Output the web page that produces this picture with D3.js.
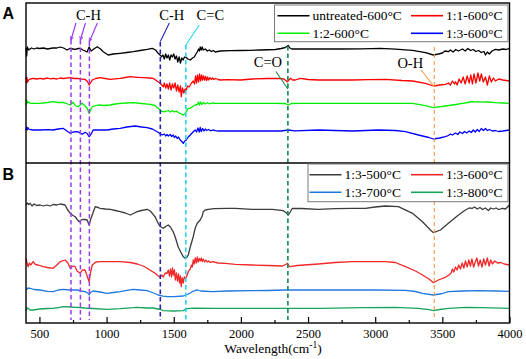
<!DOCTYPE html>
<html>
<head>
<meta charset="utf-8">
<script src="https://cdn.jsdelivr.net/npm/d3@7"></script>
<style>
body { margin: 0; background: #fff; }
svg { display: block; }
.tick line { stroke: #000; stroke-width: 1.2; }
.lbl { font-family: "Liberation Serif", "Times New Roman", serif; }
</style>
</head>
<body>
<div class="chart"></div>
<script>

// wavenumber (cm-1), transmittance (a.u., stacked)
const untreated600 = [[400,115],[405,107],[410,116],[420,113],[440,115],[460,114],[480,115],[500,114.5],[530,115],[560,114],[600,115],[630,115],[654,116],[680,115],[706,113],[729,114.7],[750,114],[766,113.7],[790,114.5],[803,114.7],[825,113],[840,112],[855,111],[870,116],[885,112],[905,114],[930,116.3],[955,114],[975,111.3],[1012,108],[1050,109],[1101,109.7],[1150,110.5],[1200,111.3],[1250,112.5],[1302,113.7],[1340,114.7],[1365,113],[1384,109.7],[1411,106.3],[1420,108],[1430,104],[1440,109],[1450,105],[1460,108],[1470,103],[1480,108],[1490,106],[1500,109],[1510,104],[1520,107],[1530,101],[1540,106],[1550,100],[1560,105],[1570,103],[1580,106],[1593,105.5],[1605,104],[1623,103],[1640,105],[1653,106],[1665,109],[1675,111],[1685,114],[1692,112],[1697,116],[1705,113],[1712,116],[1720,113],[1735,114],[1750,112],[1765,113],[1780,111.5],[1795,112.5],[1809,111],[1846,112],[1920,112.3],[1996,112.5],[2070,112.7],[2145,113],[2257,113.5],[2300,114.5],[2330,115.5],[2353,117.5],[2365,115],[2380,114],[2443,114],[2600,114],[2741,114],[2900,114.2],[3039,114.7],[3150,113.8],[3278,112.7],[3374,110.3],[3434,108],[3471,109],[3500,110],[3520,112],[3545,111.3],[3560,113],[3580,111],[3600,113.5],[3620,112],[3650,114],[3670,112],[3690,114.5],[3710,112.5],[3730,113.5],[3750,111.5],[3770,112.5],[3790,110.5],[3810,111.5],[3821,108],[3835,111],[3850,109],[3870,112],[3895,113.7],[3920,113],[3950,114],[3975,113.5],[4000,114.7]];

const ratio11 = [[400,86.3],[404,80],[408,85],[412,81],[420,83],[431,84],[453,84.7],[480,84],[505,84.7],[530,84],[560,85],[580,84.2],[602,84.7],[630,84],[654,85],[680,84.5],[729,85.3],[760,84.5],[781,84.7],[810,84],[840,83.7],[860,81],[870,78],[880,80],[893,83],[920,84.5],[952,85.3],[990,84.5],[1027,83.7],[1065,84.2],[1101,84.7],[1140,85.5],[1176,86.3],[1230,85.7],[1273,85.3],[1320,85],[1347,84.7],[1375,82],[1399,79.7],[1422,76.3],[1430,80],[1440,75],[1450,79],[1460,74],[1470,80],[1480,73],[1490,79],[1500,75],[1510,80],[1520,72],[1530,78],[1540,71],[1550,77],[1556,66.3],[1565,75],[1575,70],[1585,74],[1593,73],[1603,77],[1615,76],[1623,78],[1633,80],[1645,82],[1655,79],[1662,87],[1670,80],[1677,88],[1685,81],[1692,89],[1700,82],[1707,88],[1715,83],[1722,87],[1730,83],[1737,86.5],[1745,82.5],[1752,86],[1760,83],[1770,85.5],[1780,83.5],[1790,85],[1800,83.5],[1812,84.5],[1830,83.5],[1846,83],[1900,83.3],[1996,83],[2085,84],[2200,84.5],[2279,84.7],[2320,84],[2346,81.3],[2358,83],[2368,84.7],[2385,83],[2405,83],[2443,84.7],[2500,83.5],[2577,83],[2700,83],[2830,83],[2950,83.3],[3076,83.7],[3200,82.5],[3278,82],[3374,79.7],[3434,77],[3480,78],[3523,78.7],[3545,80],[3560,78],[3575,82],[3590,79],[3598,81.3],[3610,78],[3625,84],[3640,80],[3655,86],[3670,79],[3685,87],[3700,80],[3712,88],[3724,79],[3736,89],[3750,80],[3765,90],[3778,82],[3790,89],[3805,81],[3821,86],[3835,78],[3850,87],[3865,81],[3880,85],[3895,82],[3920,84],[3950,83],[3975,82.5],[4000,82]];

const ratio12 = [[400,58],[405,63],[412,60],[420,61],[431,59.7],[460,59.7],[505,59.7],[560,60.5],[602,61.3],[640,60.5],[676,60.7],[710,59],[729,58],[751,60.7],[770,57],[788,56.3],[818,59.7],[840,57],[855,54.7],[870,49.7],[880,53],[893,56.3],[937,58],[980,57.5],[1027,58],[1065,59],[1101,59.7],[1150,60],[1198,60.3],[1260,59.5],[1325,58.7],[1360,57.5],[1384,54.7],[1414,51.3],[1440,51.5],[1460,52.5],[1475,51],[1490,52.5],[1505,51],[1520,52],[1533,50.5],[1548,49.7],[1560,48.7],[1571,48],[1585,49.5],[1593,51.3],[1608,54.7],[1623,54.7],[1640,56.5],[1660,58],[1675,58.5],[1685,61],[1692,58],[1700,61],[1710,58.5],[1720,60.5],[1735,59],[1750,60.3],[1765,59.2],[1785,60],[1810,59.6],[1846,59.7],[1950,59.7],[2100,59.7],[2250,59.7],[2330,59.5],[2353,58],[2375,59.5],[2443,59.7],[2600,59.7],[2800,59.7],[3000,59.7],[3200,59.7],[3278,59.7],[3374,57.3],[3434,55.3],[3523,57],[3600,58.5],[3650,59.7],[3690,60.5],[3720,61.5],[3740,60.8],[3769,61.3],[3800,60.8],[3840,61],[3895,60.3],[3950,60],[4000,59.7]];

const ratio13 = [[400,33],[403,36],[408,33],[414,35.5],[420,34],[431,33.5],[453,33],[505,33],[560,33.3],[600,33],[640,34],[676,34.7],[710,31.5],[729,29.7],[751,31],[781,31.3],[800,30.3],[818,28.7],[840,30.7],[855,29.5],[870,26.3],[885,29],[900,33],[937,33],[1004,33],[1050,34],[1101,34.7],[1150,36],[1213,37],[1260,36],[1302,35.3],[1340,34],[1377,31.3],[1414,28],[1430,29],[1440,27],[1450,28.5],[1460,27],[1474,28.5],[1485,26.5],[1496,28],[1505,25.5],[1515,27],[1526,24.5],[1536,26],[1548,23],[1560,21.5],[1571,19.7],[1582,22],[1593,23],[1608,26],[1623,28],[1640,30.5],[1660,33],[1670,31],[1680,35],[1690,31],[1697,35.5],[1705,31.5],[1715,34.5],[1725,32],[1735,34],[1745,32.5],[1760,33.5],[1775,32.2],[1790,33],[1810,32.3],[1831,32],[1900,32],[2000,32],[2150,32],[2300,32],[2353,33],[2400,32.2],[2577,33],[2700,32.5],[2830,32],[3024,33],[3150,32.5],[3225,31.3],[3322,28],[3400,25.5],[3434,24],[3480,25],[3523,26.3],[3545,27.5],[3560,29],[3575,28],[3598,30],[3615,28.5],[3630,31],[3650,29.5],[3665,31.5],[3680,30],[3700,32],[3715,30.5],[3730,33],[3745,31],[3760,33.5],[3775,31.5],[3790,34.5],[3805,32.5],[3821,34.5],[3835,32.5],[3850,33.5],[3873,32],[3895,32.5],[3918,31.5],[3950,32],[4000,33]];

const temp500 = [[401,118],[410,120],[420,118.5],[431,119.7],[445,117],[460,119],[480,117.5],[505,118],[530,117],[555,118],[580,117],[602,118.5],[630,118],[654,119],[675,118.5],[691,118],[706,114],[729,109.7],[750,107.5],[766,106.3],[781,103.5],[796,101.3],[812,103],[825,103.7],[840,103.5],[855,103],[870,98],[880,103],[893,108],[915,116.3],[937,115.5],[952,114.7],[990,114],[1027,113.7],[1065,112.5],[1101,111.3],[1140,110],[1176,108],[1200,109.5],[1228,111.3],[1260,112.5],[1302,113.7],[1325,112],[1340,109.7],[1362,106],[1384,99.7],[1399,96.5],[1422,94.7],[1440,96.5],[1459,98],[1475,96],[1496,91.3],[1511,86],[1533,76.3],[1548,72],[1571,66.3],[1586,64.7],[1600,66],[1608,68],[1623,76],[1645,86.3],[1660,95],[1675,99.7],[1690,102],[1697,103],[1712,107],[1720,111.3],[1735,113],[1757,113.7],[1800,114.3],[1900,114.7],[1958,114.7],[2085,113.7],[2234,113.7],[2316,112.3],[2340,110],[2353,108],[2368,111],[2383,114.7],[2450,114.5],[2577,113.7],[2700,114.3],[2830,114.7],[2927,114.7],[3000,116],[3076,117],[3173,116.3],[3278,109.7],[3352,101.3],[3411,93],[3434,90.3],[3486,93],[3545,99.7],[3620,108],[3672,113],[3700,115],[3724,114.7],[3740,116],[3760,114],[3780,115.5],[3800,113.5],[3820,115],[3843,112.5],[3860,115],[3880,114],[3900,115],[3920,113.5],[3948,114.7],[3970,114],[4000,118]];

const temp600 = [[401,64.7],[408,60],[416,56.3],[425,60],[435,58],[453,61.3],[470,58.5],[490,58],[527,56.3],[560,55.5],[602,54.7],[630,58],[654,61.3],[691,63],[712,60],[729,54.7],[751,57],[766,56.3],[781,52],[803,49.7],[820,53],[840,53],[855,47],[870,41.3],[880,50],[893,58],[920,61],[952,61.3],[1027,61.3],[1101,61.3],[1176,60.5],[1228,59],[1273,57],[1302,54.7],[1340,51.5],[1362,49.7],[1384,47],[1399,45.7],[1410,48],[1422,46],[1436,50],[1451,49.7],[1460,53],[1468,47],[1476,54],[1484,46],[1491,55],[1498,48],[1505,53],[1512,43],[1520,50],[1528,42],[1536,49],[1543,40],[1550,47],[1556,36.3],[1563,45],[1571,40],[1578,46],[1586,44.7],[1595,46],[1608,51.3],[1623,54],[1632,58],[1638,56],[1645,63],[1652,59],[1660,65],[1668,60],[1675,66],[1682,61],[1690,64.5],[1697,62],[1705,65],[1712,61.5],[1720,64],[1730,61],[1740,63],[1750,61],[1760,62],[1772,60.5],[1787,61.3],[1830,60],[1884,59.7],[1958,58.7],[2085,58],[2200,57.5],[2309,57],[2340,59],[2346,59.7],[2358,57],[2368,56.3],[2420,57.5],[2577,59],[2700,60.5],[2830,61.3],[2950,61.3],[3076,61.3],[3150,60.5],[3225,56.3],[3300,52],[3352,48],[3400,44],[3434,40.3],[3470,43],[3523,45.7],[3550,48],[3565,50],[3575,54],[3585,51],[3598,56],[3610,53],[3622,58],[3635,54],[3648,60],[3660,55],[3672,62],[3685,56],[3697,63],[3709,57],[3720,64],[3733,56],[3745,61],[3757,65],[3769,57],[3782,63],[3795,56],[3808,64],[3821,58],[3835,65],[3848,57],[3860,63],[3873,59],[3890,62],[3910,60],[3935,60.5],[3960,59],[4000,58]];

const temp700 = [[401,33],[415,35],[431,34.7],[460,33.5],[505,33],[560,31.7],[602,31.3],[640,33],[676,33.7],[730,33],[781,33],[810,32],[840,31.3],[860,30],[870,28],[880,30.5],[900,32],[950,31],[1004,29.7],[1050,30.5],[1101,31.3],[1150,32.7],[1198,33.7],[1250,33],[1302,32.3],[1340,30.5],[1384,28],[1420,26.8],[1451,26.3],[1500,26.3],[1571,27],[1600,28.5],[1623,30],[1638,31.3],[1660,32.5],[1675,33],[1700,32],[1787,31.3],[1900,32],[2085,32.3],[2200,32.5],[2331,33],[2500,33],[2830,33],[3000,33],[3225,32.7],[3300,31.5],[3352,29.7],[3434,28],[3500,29.5],[3545,31.3],[3650,32],[3769,32.3],[3900,32],[4000,31.7]];

const temp800 = [[401,12.3],[408,15],[416,14.7],[430,13],[453,13],[500,14],[560,14.5],[602,14.7],[650,15.7],[676,16.3],[730,16],[781,15.7],[840,15],[900,14.5],[1004,13.7],[1101,14.3],[1200,15.3],[1228,15.7],[1300,15],[1347,15],[1400,13.5],[1422,12.3],[1500,12],[1571,12.3],[1600,14.3],[1650,14.8],[1800,14.7],[2000,14.7],[2353,14.7],[2600,14.7],[2900,15.3],[3150,15.7],[3322,14.7],[3400,13.3],[3434,12.3],[3480,13.5],[3545,14.7],[3672,15.7],[3800,15.3],[4000,14.7]];

const seriesA = ['untreated-600°C', '1:1-600°C', '1:2-600°C', '1:3-600°C'];
const seriesB = ['1:3-500°C', '1:3-600°C', '1:3-700°C', '1:3-800°C'];
const majorTicks = [500, 1000, 1500, 2000, 2500, 3000, 3500, 4000];
const minorTicks = [750, 1250, 1750, 2250, 2750, 3250, 3750];

// assigned bands (cm-1)
const chBands = [735, 805, 872];
const otherBands = [1400, 1590, 2350, 3440];
const otherLabels = ['C-H', 'C=C', 'C=O', 'O-H'];

const colorsA = ['#000000', '#ff0000', '#00ee00', '#0000ff'];
const colorsB = ['#3c3c3c', '#f02828', '#1f78e0', '#17a35c'];
const bandColors = ['#2424b0', '#22d6ee', '#108a4c', '#ff9448'];
const purple = '#9b3cf5';

const serif = '"Liberation Serif", "Times New Roman", serif';
const W = 526, H = 359;

const svg = d3.select('.chart')
.append('svg')
.attr('width', W)
.attr('height', H);

const xScale = d3.scaleLinear()
.domain([400, 4000])
.range([26, 509.5]);

const yA = d3.scaleLinear().domain([0, 160]).range([163, 3]);
const yB = d3.scaleLinear().domain([0, 160]).range([323, 163]);

const defs = svg.append('defs');
defs.append('marker')
.attr('id', 'head')
.attr('viewBox', '0 0 10 10')
.attr('refX', 9)
.attr('refY', 5)
.attr('markerWidth', 3.5)
.attr('markerHeight', 3.5)
.attr('orient', 'auto')
.append('path')
.attr('d', 'M0,1 L10,5 L0,9')
.attr('fill', 'none')
.attr('stroke', purple)
.attr('stroke-width', 2);

// spectra
const drawSpectra = (sets, colors, y) => {
	const line = d3.line()
	.x(d => xScale(d[0]))
	.y(d => y(d[1]));

	svg.append('g')
	.selectAll('path')
	.data(sets)
	.enter()
	.append('path')
	.attr('d', line)
	.attr('fill', 'none')
	.attr('stroke', (d, i) => colors[i])
	.attr('stroke-width', 1.3)
	.attr('stroke-linejoin', 'round');
}

drawSpectra([untreated600, ratio11, ratio12, ratio13], colorsA, yA);
drawSpectra([temp500, temp600, temp700, temp800], colorsB, yB);

// band markers
const bandG = svg.append('g');
const lowY = yB(3);

chBands.forEach((b, i) => {
	const bx = xScale(b);
	const tip = yA(i == 2 ? 121.5 : 123);
	bandG.append('line')
	.attr('x1', bx).attr('x2', bx)
	.attr('y1', tip).attr('y2', lowY)
	.attr('stroke', purple)
	.attr('stroke-width', 1.5)
	.attr('stroke-dasharray', '4.5,3');
	bandG.append('line')
	.attr('x1', bx + (i == 2 ? 8 : 5)).attr('x2', bx)
	.attr('y1', yA(140)).attr('y2', tip)
	.attr('stroke', purple)
	.attr('stroke-width', 1.2)
	.attr('marker-end', 'url(#head)');
});

bandG.append('text')
.attr('class', 'lbl')
.attr('x', xScale(805) + 8)
.attr('y', yA(143))
.attr('text-anchor', 'middle')
.attr('font-size', 14.5)
.text('C-H');

// pointer geometry per band: [dx of pointer start, top value, pointer start value, tip value, label dx, label value]
const pointer = [
	[9, 121, 140, 121.5, 11.5, 143],
	[13.5, 118, 138, 118, 24.5, 143],
	[-12, 117, 91.5, 74, -20, 96],
	[-13, 116, 93, 76, -24, 95]
];

otherBands.forEach((b, i) => {
	const bx = xScale(b);
	const p = pointer[i];
	bandG.append('line')
	.attr('x1', bx).attr('x2', bx)
	.attr('y1', yA(p[1])).attr('y2', lowY)
	.attr('stroke', bandColors[i])
	.attr('stroke-width', i == 3 ? 1.1 : 1.6)
	.attr('stroke-dasharray', i == 3 ? '4,3' : '4.5,3');
	bandG.append('line')
	.attr('x1', bx + p[0]).attr('x2', bx)
	.attr('y1', yA(p[2])).attr('y2', yA(p[3]))
	.attr('stroke', bandColors[i])
	.attr('stroke-width', 1.1);
	bandG.append('text')
	.attr('class', 'lbl')
	.attr('x', bx + p[4])
	.attr('y', yA(p[5]))
	.attr('text-anchor', 'middle')
	.attr('font-size', 14.5)
	.text(otherLabels[i]);
});

// axes
const xAxis = svg.append('g')
.attr('transform', 'translate(0,' + yB(0) + ')')
.call(
	d3.axisBottom(xScale)
	.tickValues(majorTicks)
	.tickFormat(d3.format('d'))
	.tickSizeInner(-6)
	.tickSizeOuter(0)
	.tickPadding(6)
)
.attr('font-family', serif)
.attr('font-size', 12.5);

xAxis.selectAll('text').attr('fill', '#000');

const xMinor = svg.append('g')
.attr('transform', 'translate(0,' + yB(0) + ')')
.call(
	d3.axisBottom(xScale)
	.tickValues(minorTicks)
	.tickSizeInner(-3)
	.tickSizeOuter(0)
	.tickFormat('')
);

svg.selectAll('.domain').remove();

// frame
svg.append('rect')
.attr('x', xScale(400))
.attr('y', yA(160))
.attr('width', xScale(4000) - xScale(400))
.attr('height', yB(0) - yA(160))
.attr('fill', 'none')
.attr('stroke', '#000')
.attr('stroke-width', 1.4);

svg.append('line')
.attr('x1', xScale(400)).attr('x2', xScale(4000))
.attr('y1', yA(0)).attr('y2', yA(0))
.attr('stroke', '#000')
.attr('stroke-width', 1.4);

// legends
const makeLegend = (names, colors, box, col1) => {
	const g = svg.append('g');
	g.append('rect')
	.attr('x', box[0])
	.attr('y', box[1])
	.attr('width', box[2] - box[0])
	.attr('height', box[3] - box[1])
	.attr('fill', '#fff')
	.attr('stroke', '#7a7a7a')
	.attr('stroke-width', 1);

	const cols = [col1, 411];
	const rowY = [box[1] + 10.7, box[1] + 28.3];

	names.forEach((n, i) => {
		const lx = cols[i % 2];
		const ly = rowY[Math.floor(i / 2)];
		g.append('line')
		.attr('x1', lx).attr('x2', lx + 32)
		.attr('y1', ly).attr('y2', ly)
		.attr('stroke', colors[i])
		.attr('stroke-width', 1.6);
		g.append('text')
		.attr('class', 'lbl')
		.attr('x', lx + 35)
		.attr('y', ly + 4.6)
		.attr('font-size', 13.5)
		.text(n);
	});
}

makeLegend(seriesA, colorsA, [274.5, 5, 508, 41.7], 277.5);
makeLegend(seriesB, colorsB, [308, 164, 508, 201.7], 309.5);

// panel letters
svg.append('text')
.attr('x', 2.5)
.attr('y', 18.5)
.attr('font-family', 'Liberation Sans, Arial, sans-serif')
.attr('font-weight', 'bold')
.attr('font-size', 16)
.text('A');

svg.append('text')
.attr('x', 2.5)
.attr('y', 180)
.attr('font-family', 'Liberation Sans, Arial, sans-serif')
.attr('font-weight', 'bold')
.attr('font-size', 16)
.text('B');

// axis title
const title = svg.append('text')
.attr('class', 'lbl')
.attr('x', 273)
.attr('y', 352.5)
.attr('text-anchor', 'middle')
.attr('font-size', 13.5);

title.append('tspan').text('Wavelength(cm');
title.append('tspan').attr('dy', -5).attr('font-size', 9.5).text('-1');
title.append('tspan').attr('dy', 5).text(')');

</script>
</body>
</html>
